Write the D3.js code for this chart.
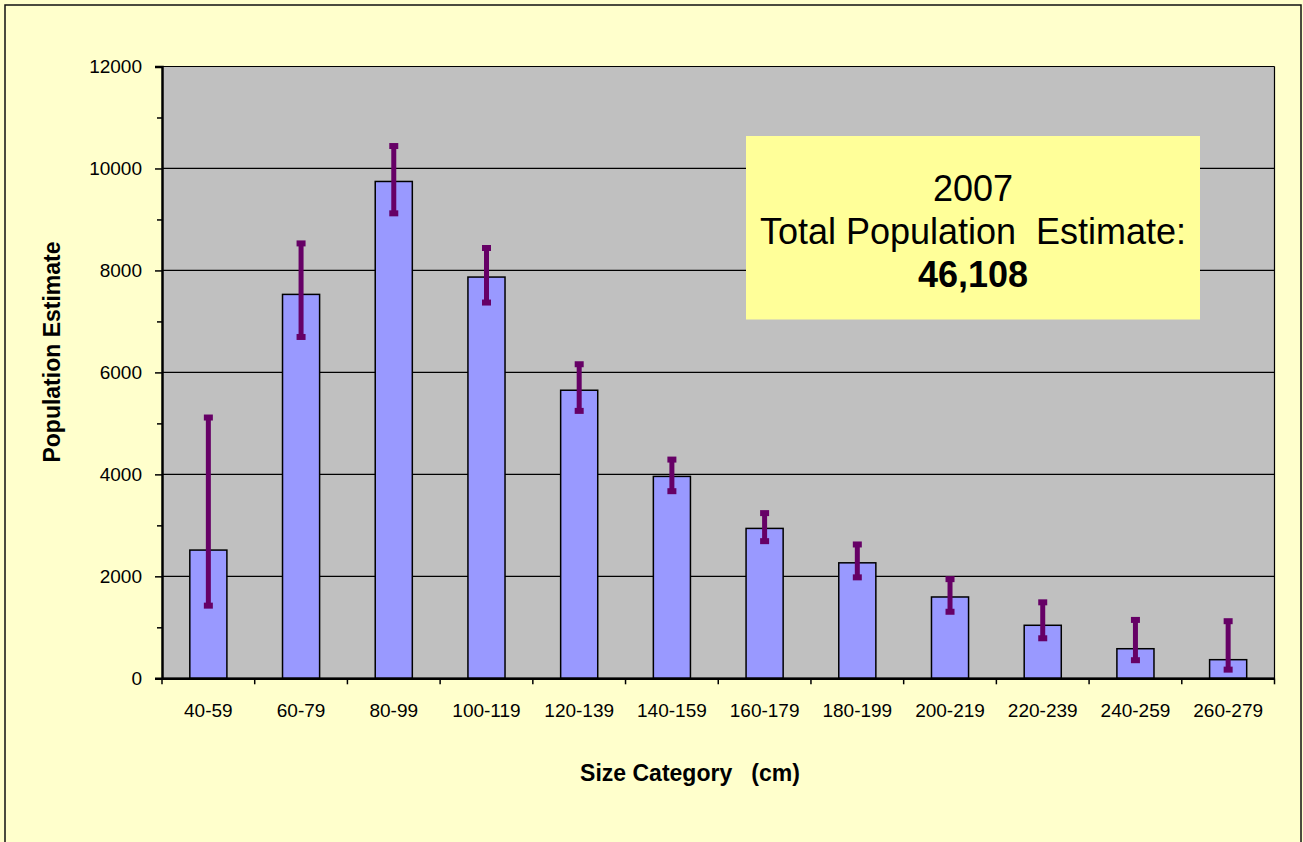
<!DOCTYPE html>
<meta charset="utf-8">
<html>
<head>
  <title>Population Estimate by Size Category</title>
  <style>
    body { margin: 0; background: #ffffff; }
    svg { display: block; font-family: Arial, "Liberation Sans", sans-serif; }
    .bar { fill: #9999ff; stroke: #000; stroke-width: 1.5; }
    .err { stroke: #660066; }
    .axislabel { font-weight: bold; font-size: 23px; text-anchor: middle; }
  </style>
  <script src="https://d3js.org/d3.v7.min.js"></script>
</head>
<body>
  <svg width="1303" height="842"></svg>
  <script>
    // values
    var categories = ["40-59", "60-79", "80-99", "100-119", "120-139", "140-159",
                      "160-179", "180-199", "200-219", "220-239", "240-259", "260-279"];
    var estimates = [2515, 7530, 9745, 7870, 5650, 3960, 2940, 2265, 1595, 1040, 580, 365];
    var upperBound = [5115, 8530, 10440, 8440, 6160, 4290, 3240, 2625, 1945, 1490, 1145, 1120];
    var lowerBound = [1425, 6695, 9120, 7370, 5245, 3670, 2690, 1980, 1305, 785, 355, 170];
    var yTicks = [0, 2000, 4000, 6000, 8000, 10000, 12000];
    var yMinorTicks = [1000, 3000, 5000, 7000, 9000, 11000];
    var noteLines = ["2007", "Total Population  Estimate:", "46,108"];

    var data = categories.map(function(c, i) {
      return { cat: c, value: estimates[i], hi: upperBound[i], lo: lowerBound[i] };
    });

    var svg = d3.select("svg");

    // chart background and frame
    svg.append("rect")
      .attr("width", 1303).attr("height", 842)
      .attr("fill", "#ffffcc");
    svg.append("rect")
      .attr("x", 5).attr("y", 5)
      .attr("width", 1296).attr("height", 860)
      .attr("fill", "none").attr("stroke", "#111").attr("stroke-width", 1.5);

    var margin = {top: 66.5, left: 162};
    var width = 1274.5 - margin.left;
    var height = 678.3 - margin.top;

    var g = svg.append("g")
      .attr("transform", "translate(" + margin.left + "," + margin.top + ")");

    var x = d3.scaleBand().domain(categories).range([0, width])
      .paddingInner(0.6).paddingOuter(0.3);
    var xTick = d3.scaleBand().domain(categories).range([0, width]);
    var y = d3.scaleLinear().domain([0, 12000]).range([height, 0]);

    // plot area
    g.append("rect")
      .attr("width", width).attr("height", height)
      .attr("fill", "#c0c0c0");

    // gridlines
    g.selectAll(".grid")
      .data(yTicks)
      .enter().append("line")
        .attr("x1", 0).attr("x2", width)
        .attr("y1", function(d) { return y(d); })
        .attr("y2", function(d) { return y(d); })
        .attr("stroke", "#000").attr("stroke-width", 1.2);

    // right border of plot area
    g.append("line")
      .attr("x1", width).attr("x2", width)
      .attr("y1", 0).attr("y2", height)
      .attr("stroke", "#000").attr("stroke-width", 1.2);

    // bars
    g.selectAll(".bar")
      .data(data)
      .enter().append("rect")
        .attr("class", "bar")
        .attr("x", function(d) { return x(d.cat); })
        .attr("y", function(d) { return y(d.value); })
        .attr("width", x.bandwidth())
        .attr("height", function(d) { return height - y(d.value); });

    // error bars
    var eb = g.selectAll(".err")
      .data(data)
      .enter().append("g")
        .attr("class", "err")
        .attr("transform", function(d) {
          return "translate(" + (x(d.cat) + x.bandwidth() / 2) + ",0)";
        });
    eb.append("line")
      .attr("y1", function(d) { return y(d.hi); })
      .attr("y2", function(d) { return y(d.lo); })
      .attr("stroke-width", 5);
    eb.selectAll(".cap")
      .data(function(d) { return [d.hi, d.lo]; })
      .enter().append("line")
        .attr("x1", -4.5).attr("x2", 4.5)
        .attr("y1", function(v) { return y(v); })
        .attr("y2", function(v) { return y(v); })
        .attr("stroke-width", 6);

    // y axis
    var yAxis = g.append("g")
      .call(d3.axisLeft(y).tickValues(yTicks).tickSize(7).tickPadding(13)
        .tickFormat(d3.format("d")));
    g.append("g")
      .call(d3.axisLeft(y).tickValues(yMinorTicks).tickSize(5).tickFormat(""))
      .select(".domain").remove();

    // x axis
    var xAxis = g.append("g")
      .attr("transform", "translate(0," + height + ")")
      .call(d3.axisBottom(xTick).tickSize(0).tickPadding(25));
    g.append("g")
      .attr("transform", "translate(0," + height + ")")
      .selectAll("line")
      .data(categories.concat([null]))
      .enter().append("line")
        .attr("x1", function(d, i) { return i * xTick.step(); })
        .attr("x2", function(d, i) { return i * xTick.step(); })
        .attr("y1", 0).attr("y2", 6)
        .attr("stroke", "#000").attr("stroke-width", 1.5);

    [yAxis, xAxis].forEach(function(a) {
      a.selectAll("text").attr("font-size", 19).attr("font-family", "Arial, 'Liberation Sans', sans-serif").attr("fill", "#000");
      a.select(".domain").attr("stroke-width", 2.5);
    });
    g.selectAll(".tick line").attr("stroke-width", 1.5);

    // axis titles
    svg.append("text")
      .attr("class", "axislabel")
      .attr("transform", "translate(60,352) rotate(-90)")
      .text("Population Estimate");
    svg.append("text")
      .attr("class", "axislabel")
      .attr("x", 690).attr("y", 781)
      .attr("xml:space", "preserve")
      .style("white-space", "pre")
      .text("Size Category   (cm)");

    // total estimate note
    svg.append("rect")
      .attr("x", 746).attr("y", 136)
      .attr("width", 454).attr("height", 183.5)
      .attr("fill", "#ffff99");
    svg.selectAll(".note")
      .data(noteLines)
      .enter().append("text")
        .attr("x", 973)
        .attr("y", function(d, i) { return 201 + i * 43; })
        .attr("text-anchor", "middle")
        .attr("font-size", 36)
        .attr("font-weight", function(d, i) { return i === 2 ? "bold" : "normal"; })
        .style("white-space", "pre")
        .text(function(d) { return d; });
  </script>
</body>
</html>
